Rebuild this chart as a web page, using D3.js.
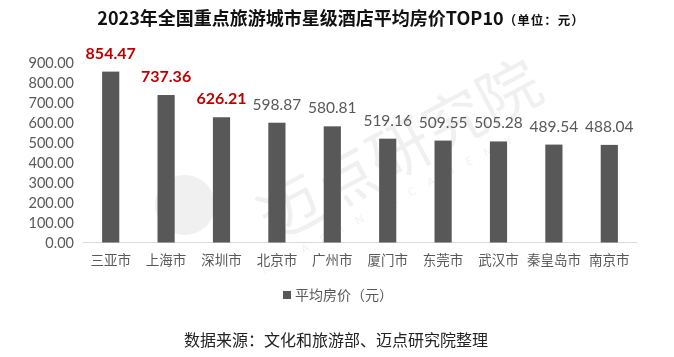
<!DOCTYPE html>
<html><head><meta charset="utf-8">
<script src="https://cdn.jsdelivr.net/npm/d3@7"></script>
<style>html,body{margin:0;padding:0;background:#fff;}svg{display:block;}</style>
</head><body>
<script>
const categories = ["三亚市","上海市","深圳市","北京市","广州市","厦门市","东莞市","武汉市","秦皇岛市","南京市"];
const values = [854.47,737.36,626.21,598.87,580.81,519.16,509.55,505.28,489.54,488.04];
const yTicks = [0,100,200,300,400,500,600,700,800,900];
const highlightCount = 3;
const title = "2023年全国重点旅游城市星级酒店平均房价TOP10";
const unit = "（单位：元）";
const legendLabel = "平均房价（元）";
const source = "数据来源：文化和旅游部、迈点研究院整理";

const W = 674, H = 357;
const svg = d3.select("body").append("svg").attr("width", W).attr("height", H);
const cjk = "'Noto Sans CJK SC','Microsoft YaHei',sans-serif";
const num = "Lato,'Noto Sans',sans-serif";

// watermark
const wm = svg.append("g").attr("opacity", 0.06).attr("fill", "#000");
wm.append("text").attr("transform", "translate(410,170) rotate(-28)")
  .attr("text-anchor", "middle").attr("font-family", cjk).attr("font-size", 62)
  .text("迈点研究院");
wm.append("text").attr("transform", "translate(395,205) rotate(-28)")
  .attr("text-anchor", "middle").attr("font-family", num).attr("font-size", 11)
  .attr("letter-spacing", 14).text("MEADIN ACADEMY");
wm.append("circle").attr("cx", 185).attr("cy", 205).attr("r", 30);

const x = d3.scaleBand().domain(categories).range([83, 637]).paddingInner(0.69).paddingOuter(0.345);
const y = d3.scaleLinear().domain([0, 900]).range([242.5, 62.5]);

// y axis labels
svg.append("g").selectAll("text").data(yTicks).join("text")
  .attr("x", 74).attr("y", d => y(d)).attr("dy", "0.36em")
  .attr("text-anchor", "end").attr("font-family", num).attr("font-size", 14.5)
  .attr("fill", "#595959").text(d => d3.format(".2f")(d));

// baseline
svg.append("line").attr("x1", 83).attr("x2", 637).attr("y1", y(0)).attr("y2", y(0))
  .attr("stroke", "#d9d9d9").attr("stroke-width", 1);

// bars
svg.append("g").selectAll("rect").data(values).join("rect")
  .attr("x", (d, i) => x(categories[i])).attr("width", x.bandwidth())
  .attr("y", d => y(d)).attr("height", d => y(0) - y(d)).attr("fill", "#585858");

// value labels
svg.append("g").selectAll("text").data(values).join("text")
  .attr("x", (d, i) => x(categories[i]) + x.bandwidth() / 2)
  .attr("y", d => y(d) - 13)
  .attr("text-anchor", "middle").attr("font-family", num)
  .attr("font-size", (d, i) => i < highlightCount ? 16 : 15.5)
  .attr("font-weight", (d, i) => i < highlightCount ? "bold" : "normal")
  .attr("fill", (d, i) => i < highlightCount ? "#c00000" : "#595959")
  .text(d => d3.format(".2f")(d));

// x labels
svg.append("g").selectAll("text").data(categories).join("text")
  .attr("x", d => x(d) + x.bandwidth() / 2).attr("y", 265)
  .attr("text-anchor", "middle").attr("font-family", cjk).attr("font-size", 13.5)
  .attr("fill", "#595959").text(d => d);

// title
const t = svg.append("text").attr("x", 341).attr("y", 25).attr("text-anchor", "middle")
  .attr("font-family", cjk).attr("font-weight", "bold").attr("fill", "#111");
t.append("tspan").attr("font-size", 18).text(title);
t.append("tspan").attr("font-size", 12.5).attr("letter-spacing", 1).text(unit);

// legend
svg.append("rect").attr("x", 283).attr("y", 291).attr("width", 8).attr("height", 8).attr("fill", "#585858");
svg.append("text").attr("x", 295).attr("y", 300).attr("font-family", cjk).attr("font-size", 14)
  .attr("fill", "#595959").text(legendLabel);

// source
svg.append("text").attr("x", 336).attr("y", 346).attr("text-anchor", "middle")
  .attr("font-family", cjk).attr("font-size", 16).attr("fill", "#222").text(source);
</script>
</body></html>
